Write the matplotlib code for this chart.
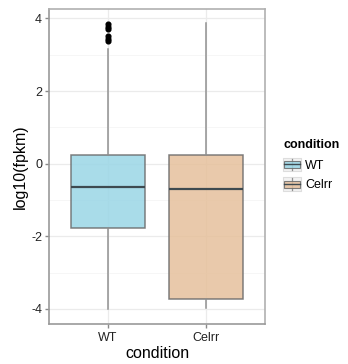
import numpy as np
from matplotlib import pyplot as plt
from matplotlib.patches import Rectangle
from matplotlib.lines import Line2D
from matplotlib.legend_handler import HandlerBase

plt.rcParams['font.family'] = ['Liberation Sans', 'DejaVu Sans']

conditions = ['WT', 'Celrr']
fills = ['#9ad6e6', '#e6c09c']
q1 = [-1.76, -3.72]
med = [-0.65, -0.70]
q3 = [0.25, 0.25]
whislo = [-4.0, -3.97]
whishi = [3.16, 3.87]
fliers = [[3.38, 3.44, 3.51, 3.71, 3.77, 3.84], []]

stats = []
for i, c in enumerate(conditions):
    stats.append(dict(label=c, q1=q1[i], med=med[i], q3=q3[i],
                      whislo=whislo[i], whishi=whishi[i], fliers=fliers[i]))

fig = plt.figure(figsize=(3.48, 3.64), dpi=100)
ax = fig.add_axes([49/348, 1-323.5/364, 216/348, 314.5/364])

bp = ax.bxp(stats, positions=[1, 2], widths=0.75, patch_artist=True, showcaps=False,
            boxprops=dict(edgecolor='#6a6a6a', linewidth=1.1),
            medianprops=dict(color='#3e4a50', linewidth=1.6),
            whiskerprops=dict(color='#909090', linewidth=1.1),
            flierprops=dict(marker='o', markersize=3.4, markerfacecolor='black',
                            markeredgecolor='black'),
            zorder=3)
for patch, f in zip(bp['boxes'], fills):
    patch.set_facecolor(f)
    patch.set_alpha(0.85)
    patch.set_edgecolor('#6a6a6a')

ax.set_xlim(0.4, 2.6)
ax.set_ylim(-4.40, 4.26)
ax.set_yticks([-4, -2, 0, 2, 4])
ax.set_yticklabels(['-4', '-2', '0', '2', '4'])
ax.set_yticks([-3, -1, 1, 3], minor=True)
ax.set_xticks([1, 2])
ax.set_xticklabels(conditions)
ax.grid(True, which='major', color='#ebebeb', linewidth=0.9, zorder=0)
ax.grid(True, which='minor', axis='y', color='#f5f5f5', linewidth=0.6, zorder=0)
ax.set_axisbelow(True)
ax.tick_params(which='major', length=3, color='#8a8a8a', labelsize=9, labelcolor='#222222', width=1, pad=2)
ax.tick_params(axis='x', pad=3)
ax.tick_params(which='minor', length=0)
for s in ax.spines.values():
    s.set_color('#b0b0b0')
    s.set_linewidth(1.2)
ax.spines['left'].set_color('#9a9a9a')
ax.spines['bottom'].set_color('#9a9a9a')
ax.set_xlabel('condition', fontsize=11.5, labelpad=1.5)
ax.set_ylabel('log10(fpkm)', fontsize=11.5, labelpad=2)


class BoxHandler(HandlerBase):
    def __init__(self, color):
        super().__init__()
        self.color = color

    def create_artists(self, legend, orig_handle, xdescent, ydescent, width, height, fontsize, trans):
        x0, y0 = -xdescent, -ydescent
        bg = Rectangle((x0, y0), width, height,
                       facecolor='#f2f2f2', edgecolor='#dddddd', lw=0.8, transform=trans)
        cx = x0 + width / 2
        wl = Line2D([cx, cx], [y0 + 0.8, y0 + height - 0.8], color='#909090', lw=0.9, transform=trans)
        box = Rectangle((x0 + 1, y0 + 2.4), width - 2, height - 4.8,
                        facecolor=self.color, edgecolor='#6a6a6a', lw=0.8, alpha=0.85, transform=trans)
        md = Line2D([x0 + 1, x0 + width - 1], [y0 + height / 2] * 2,
                    color='#3e4a50', lw=1.0, transform=trans)
        return [bg, wl, box, md]


h1 = Rectangle((0, 0), 1, 1)
h2 = Rectangle((0, 0), 1, 1)
leg = fig.legend([h1, h2], conditions, loc='center left', bbox_to_anchor=(283/348, 1-165/364),
                 frameon=False, title='condition', fontsize=9, handlelength=1.45, handleheight=1.3,
                 handletextpad=0.3, labelspacing=0.45, borderaxespad=0, borderpad=0,
                 handler_map={h1: BoxHandler(fills[0]), h2: BoxHandler(fills[1])})
leg.get_title().set_fontweight('bold')
leg.get_title().set_fontsize(9)
leg._legend_box.align = 'left'
leg._legend_box.sep = 5

fig.savefig('out.png', dpi=100)
